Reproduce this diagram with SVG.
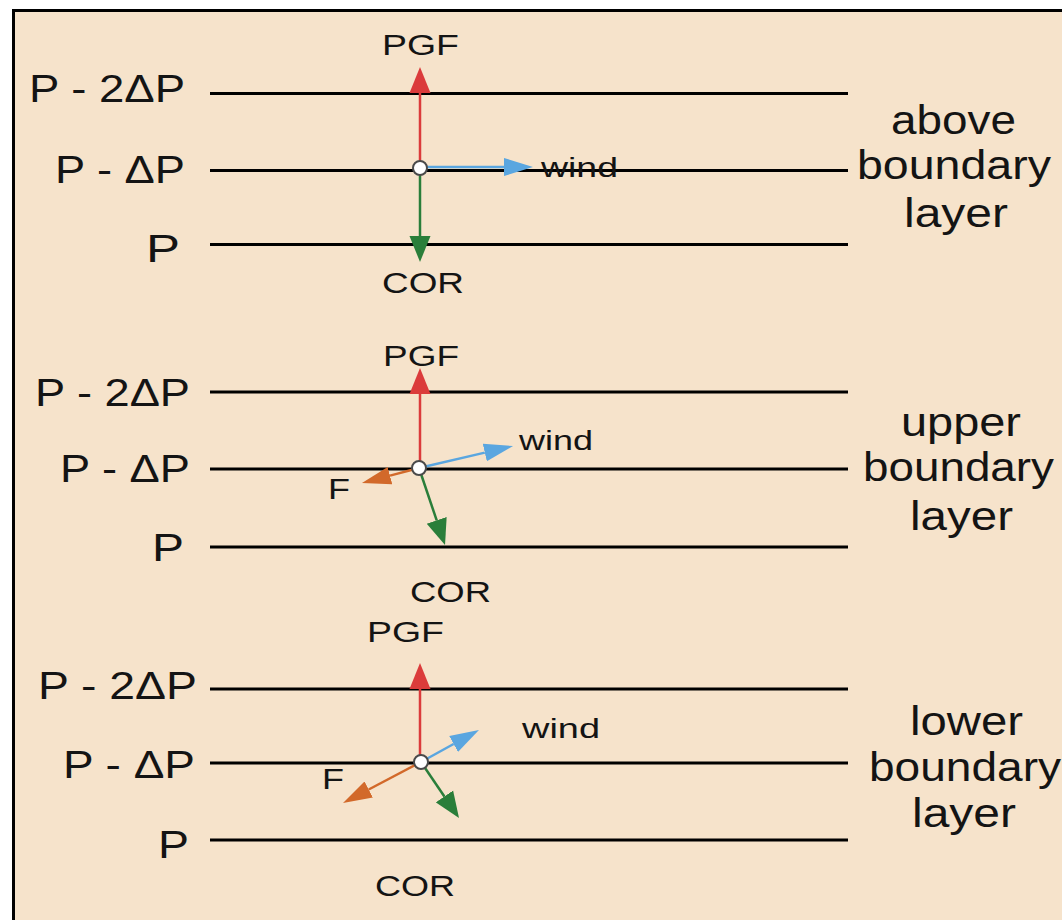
<svg xmlns="http://www.w3.org/2000/svg" width="1062" height="920" viewBox="0 0 1062 920">
<style>
text{font-family:"Liberation Sans",Arial,sans-serif;fill:#141414}
.lev{font-size:38px}
.lay{font-size:40px}
.lab{font-size:29px}
.wind{font-size:28px}
.iso{stroke:#000;stroke-width:3}
.pgf{stroke:#DB3B3B;stroke-width:2.5;fill:none}
.cor{stroke:#2A7E3A;stroke-width:2.5;fill:none}
.wnd{stroke:#5AA6E0;stroke-width:2.5;fill:none}
.fr{stroke:#D2692A;stroke-width:2.5;fill:none}
.pt{fill:#fff;stroke:#4a4a4a;stroke-width:2}
</style>
<defs>
<marker id="mRed" markerUnits="userSpaceOnUse" markerWidth="27" markerHeight="22" refX="0" refY="11" orient="auto"><path d="M0,0.5 L26,11 L0,21.5z" fill="#DB3B3B"/></marker>
<marker id="mGreen" markerUnits="userSpaceOnUse" markerWidth="27" markerHeight="22" refX="0" refY="11" orient="auto"><path d="M0,0.5 L26,11 L0,21.5z" fill="#2A7E3A"/></marker>
<marker id="mBlue" markerUnits="userSpaceOnUse" markerWidth="30" markerHeight="20" refX="0" refY="10" orient="auto"><path d="M0,1 L29,10 L0,19z" fill="#5AA6E0"/></marker>
<marker id="mOrange" markerUnits="userSpaceOnUse" markerWidth="30" markerHeight="20" refX="0" refY="10" orient="auto"><path d="M0,1 L29,10 L0,19z" fill="#D2692A"/></marker>
</defs>
<rect width="1062" height="920" fill="#fff"/>
<rect x="12" y="9" width="1050" height="911" fill="#F6E3CB"/>
<path d="M13.5,920 V10.5 H1062" fill="none" stroke="#000" stroke-width="3"/>

<g id="panel-above">
<g id="isobars-1">
<line class="iso" x1="210" y1="93.5" x2="848" y2="93.5"/>
<line class="iso" x1="210" y1="170.5" x2="848" y2="170.5"/>
<line class="iso" x1="210" y1="244.5" x2="848" y2="244.5"/>
</g>
<g id="levels-1">
<text class="lev" x="29" y="102" textLength="156" lengthAdjust="spacingAndGlyphs">P - 2ΔP</text>
<text class="lev" x="55" y="183" textLength="130" lengthAdjust="spacingAndGlyphs">P - ΔP</text>
<text class="lev" x="146" y="262" textLength="34" lengthAdjust="spacingAndGlyphs">P</text>
</g>
<g id="connectors-1">
<line class="pgf" x1="420" y1="168" x2="420" y2="93" marker-end="url(#mRed)"/>
<line class="cor" x1="420" y1="168" x2="420" y2="236" marker-end="url(#mGreen)"/>
<line class="wnd" x1="420" y1="167" x2="504" y2="167" marker-end="url(#mBlue)"/>
</g>
<circle id="parcel-1" class="pt" cx="420" cy="168" r="7"/>
<text class="lab" x="382" y="55" textLength="77" lengthAdjust="spacingAndGlyphs">PGF</text>
<text class="lab" x="382" y="293" textLength="82" lengthAdjust="spacingAndGlyphs">COR</text>
<text class="wind" x="541" y="177" textLength="77" lengthAdjust="spacingAndGlyphs">wind</text>
<g id="label-1">
<text class="lay" x="891" y="134" textLength="125" lengthAdjust="spacingAndGlyphs">above</text>
<text class="lay" x="857" y="179" textLength="194" lengthAdjust="spacingAndGlyphs">boundary</text>
<text class="lay" x="904" y="227" textLength="104" lengthAdjust="spacingAndGlyphs">layer</text>
</g>
</g>

<g id="panel-upper">
<g id="isobars-2">
<line class="iso" x1="210" y1="392" x2="848" y2="392"/>
<line class="iso" x1="210" y1="469" x2="848" y2="469"/>
<line class="iso" x1="210" y1="547" x2="848" y2="547"/>
</g>
<g id="levels-2">
<text class="lev" x="35" y="406" textLength="155" lengthAdjust="spacingAndGlyphs">P - 2ΔP</text>
<text class="lev" x="60" y="482" textLength="130" lengthAdjust="spacingAndGlyphs">P - ΔP</text>
<text class="lev" x="152" y="561" textLength="32" lengthAdjust="spacingAndGlyphs">P</text>
</g>
<g id="connectors-2">
<line class="pgf" x1="420" y1="468" x2="420" y2="394" marker-end="url(#mRed)"/>
<line class="wnd" x1="419" y1="468" x2="484.8" y2="452.6" marker-end="url(#mBlue)"/>
<line class="fr" x1="419" y1="468" x2="390" y2="475.6" marker-end="url(#mOrange)"/>
<line class="cor" x1="419" y1="468" x2="436.7" y2="520.4" marker-end="url(#mGreen)"/>
</g>
<circle id="parcel-2" class="pt" cx="419" cy="468" r="7"/>
<text class="lab" x="383" y="366" textLength="76" lengthAdjust="spacingAndGlyphs">PGF</text>
<text class="lab" x="410" y="602" textLength="81" lengthAdjust="spacingAndGlyphs">COR</text>
<text class="wind" x="519" y="450" textLength="74" lengthAdjust="spacingAndGlyphs">wind</text>
<text class="lab" x="328" y="499" textLength="22" lengthAdjust="spacingAndGlyphs">F</text>
<g id="label-2">
<text class="lay" x="901" y="436" textLength="120" lengthAdjust="spacingAndGlyphs">upper</text>
<text class="lay" x="863" y="481" textLength="191" lengthAdjust="spacingAndGlyphs">boundary</text>
<text class="lay" x="910" y="530" textLength="103" lengthAdjust="spacingAndGlyphs">layer</text>
</g>
</g>

<g id="panel-lower">
<g id="isobars-3">
<line class="iso" x1="210" y1="689" x2="848" y2="689"/>
<line class="iso" x1="210" y1="763" x2="848" y2="763"/>
<line class="iso" x1="210" y1="840" x2="848" y2="840"/>
</g>
<g id="levels-3">
<text class="lev" x="38" y="699" textLength="159" lengthAdjust="spacingAndGlyphs">P - 2ΔP</text>
<text class="lev" x="63" y="778" textLength="132" lengthAdjust="spacingAndGlyphs">P - ΔP</text>
<text class="lev" x="158" y="858" textLength="31" lengthAdjust="spacingAndGlyphs">P</text>
</g>
<g id="connectors-3">
<line class="pgf" x1="420" y1="762" x2="420" y2="689" marker-end="url(#mRed)"/>
<line class="wnd" x1="421" y1="762" x2="453.6" y2="744" marker-end="url(#mBlue)"/>
<line class="fr" x1="421" y1="762" x2="368.7" y2="789.5" marker-end="url(#mOrange)"/>
<line class="cor" x1="421" y1="762" x2="444.4" y2="796.5" marker-end="url(#mGreen)"/>
</g>
<circle id="parcel-3" class="pt" cx="421" cy="762" r="7"/>
<text class="lab" x="367" y="642" textLength="77" lengthAdjust="spacingAndGlyphs">PGF</text>
<text class="lab" x="375" y="896" textLength="80" lengthAdjust="spacingAndGlyphs">COR</text>
<text class="wind" x="522" y="738" textLength="78" lengthAdjust="spacingAndGlyphs">wind</text>
<text class="lab" x="322" y="789" textLength="22" lengthAdjust="spacingAndGlyphs">F</text>
<g id="label-3">
<text class="lay" x="910" y="735" textLength="113" lengthAdjust="spacingAndGlyphs">lower</text>
<text class="lay" x="869" y="781" textLength="192" lengthAdjust="spacingAndGlyphs">boundary</text>
<text class="lay" x="912" y="827" textLength="104" lengthAdjust="spacingAndGlyphs">layer</text>
</g>
</g>
</svg>
